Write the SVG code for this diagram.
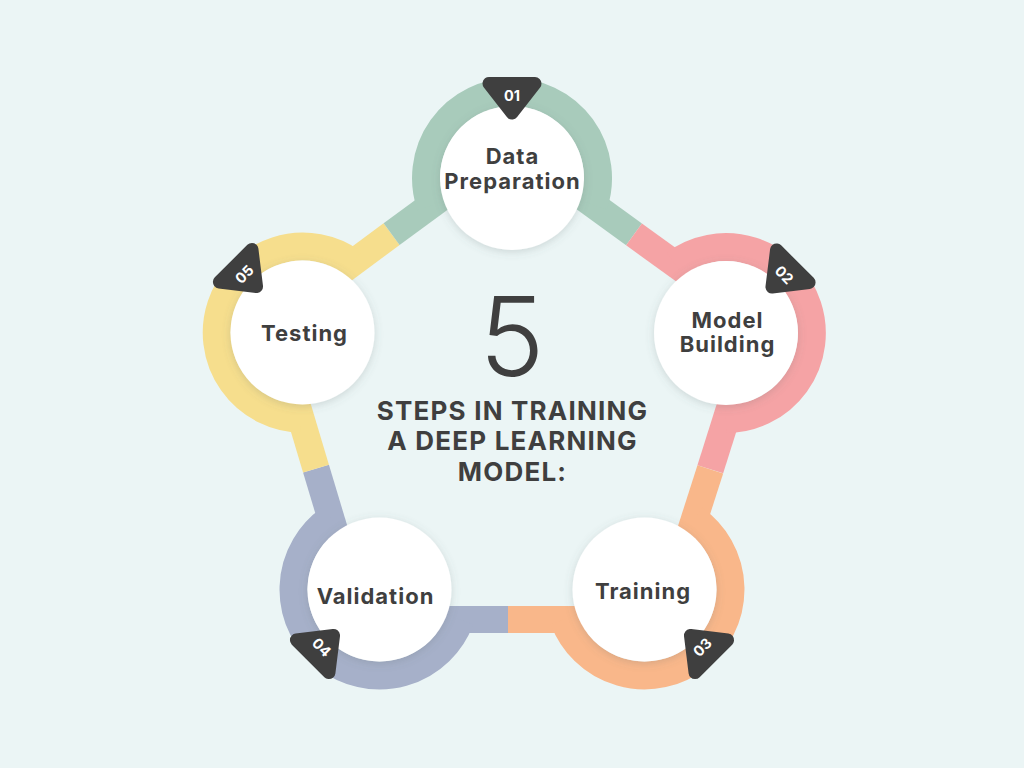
<svg xmlns="http://www.w3.org/2000/svg" width="1024" height="768" viewBox="0 0 1024 768">
<defs>
<filter id="sh" x="-30%" y="-30%" width="160%" height="160%">
<feDropShadow dx="0" dy="2" stdDeviation="4" flood-color="#5a6b6b" flood-opacity="0.22"/>
</filter>
<style>
.band{fill:none;stroke-width:27;stroke-linecap:butt}
.ring{fill:none;stroke-width:28;stroke-linecap:butt}
.g{stroke:#A8CBBB}.p{stroke:#F5A3A5}.o{stroke:#F9B78A}.b{stroke:#A6B0C9}.y{stroke:#F6DE8D}
.disc{fill:#FFFFFF;filter:url(#sh)}
.tri{fill:#3F3F3F;stroke:#3F3F3F;stroke-width:13;stroke-linejoin:round}
.num{font-family:Inter,"Liberation Sans",sans-serif;font-weight:700;font-size:14.5px;fill:#FFFFFF;text-anchor:middle}
.lbl{font-family:Inter,"Liberation Sans",sans-serif;font-weight:700;font-size:22px;letter-spacing:1px;fill:#3F3F3F;text-anchor:middle}
.big{font-family:Inter,"Liberation Sans",sans-serif;font-weight:300;font-size:110px;fill:#3F3F3F;text-anchor:middle}
.ttl{font-family:Inter,"Liberation Sans",sans-serif;font-weight:700;font-size:26px;letter-spacing:1.2px;fill:#3F3F3F;text-anchor:middle}
</style>
</defs>
<rect width="1024" height="768" fill="#EBF5F5"/>
<g id="connectors">
<line class="band g" x1="527.3" y1="156.9" x2="634" y2="234.4"/>
<line class="band p" x1="634" y1="234.4" x2="741.3" y2="311.9"/>
<line class="band p" x1="750.8" y1="340.9" x2="710.3" y2="469.3"/>
<line class="band o" x1="710.3" y1="469.3" x2="669.3" y2="597.4"/>
<line class="band o" x1="644.5" y1="619.5" x2="508" y2="619.5"/>
<line class="band b" x1="508" y1="619.5" x2="379.5" y2="619.5"/>
<line class="band b" x1="354.6" y1="597" x2="316" y2="468.7"/>
<line class="band y" x1="316" y1="468.7" x2="277.6" y2="340"/>
<line class="band y" x1="287.1" y1="311.6" x2="391.6" y2="234.1"/>
<line class="band g" x1="391.6" y1="234.1" x2="496.6" y2="157.1"/>
</g>
<g id="node-data-preparation">
<path class="ring g" d="M430.6 205.8 A86 86 0 1 1 593.7 205"/>
<circle class="disc" cx="512" cy="178" r="72"/>
<g transform="translate(512 178)">
<path class="tri" d="M-23 -94.5 L23 -94.5 L0 -65 Z"/>
<text class="num" x="0" y="-77">01</text>
</g>
<text class="lbl" x="512.5" y="164">Data</text>
<text class="lbl" x="512.5" y="189">Preparation</text>
</g>
<g id="node-model-building">
<path class="ring p" d="M674.9 263.8 A86 86 0 1 1 726 419.1"/>
<circle class="disc" cx="726" cy="333" r="72"/>
<g transform="translate(726 333) rotate(45)">
<path class="tri" d="M-23 -94.5 L23 -94.5 L0 -65 Z"/>
<text class="num" x="0" y="-77">02</text>
</g>
<text class="lbl" x="727.5" y="328">Model</text>
<text class="lbl" x="727.5" y="352">Building</text>
</g>
<g id="node-training">
<path class="ring o" d="M694.1 519.2 A86 86 0 1 1 563.9 619.5"/>
<circle class="disc" cx="644.5" cy="589.5" r="72"/>
<g transform="translate(644.5 589.5) rotate(135)">
<path class="tri" d="M-23 -94.5 L23 -94.5 L0 -65 Z"/>
<text class="num" x="0" y="-77" transform="rotate(180 0 -82)">03</text>
</g>
<text class="lbl" x="643" y="599">Training</text>
</g>
<g id="node-validation">
<path class="ring b" d="M460.1 619.5 A86 86 0 1 1 331.1 518.4"/>
<circle class="disc" cx="379.5" cy="589.5" r="72"/>
<g transform="translate(379.5 589.5) rotate(225)">
<path class="tri" d="M-23 -94.5 L23 -94.5 L0 -65 Z"/>
<text class="num" x="0" y="-77" transform="rotate(180 0 -82)">04</text>
</g>
<text class="lbl" x="375.5" y="604">Validation</text>
</g>
<g id="node-testing">
<path class="ring y" d="M301.1 418.6 A86 86 0 1 1 353.1 262.9"/>
<circle class="disc" cx="302.5" cy="332.5" r="72"/>
<g transform="translate(302.5 332.5) rotate(315)">
<path class="tri" d="M-23 -94.5 L23 -94.5 L0 -65 Z"/>
<text class="num" x="0" y="-77">05</text>
</g>
<text class="lbl" x="304.5" y="341">Testing</text>
</g>
<g id="title">
<text class="big" x="512" y="376">5</text>
<text class="ttl" x="512.5" y="420">STEPS IN TRAINING</text>
<text class="ttl" x="512.5" y="450">A DEEP LEARNING</text>
<text class="ttl" x="512.5" y="481">MODEL:</text>
</g>
</svg>
